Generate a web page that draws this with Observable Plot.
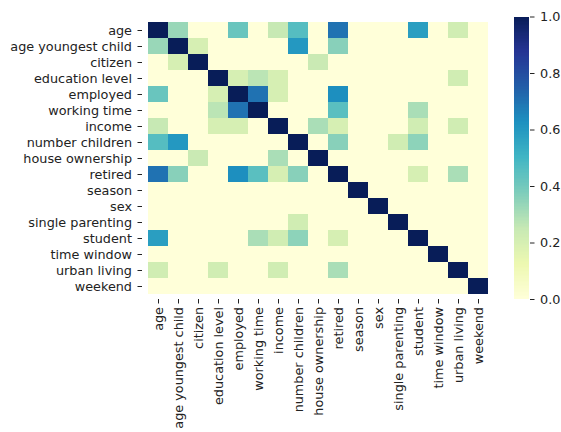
<!DOCTYPE html>
<html>
<head>
<meta charset="utf-8">
<script src="https://cdn.jsdelivr.net/npm/d3@7"></script>
<script src="https://cdn.jsdelivr.net/npm/@observablehq/plot@0.6"></script>
<style>
  html, body { margin: 0; padding: 0; background: #fff; }
  #wrap { position: relative; width: 561px; height: 432px; overflow: hidden; }
  #wrap > div { position: absolute; top: 0; }
  svg text { font-family: "DejaVu Sans", sans-serif !important; font-size: 12.8px !important; fill: #222; }
</style>
</head>
<body>
<div id="wrap"><div id="main" style="left:0"></div><div id="cbar" style="left:500px"></div></div>
<script>
const categories = ["age", "age youngest child", "citizen", "education level", "employed",
  "working time", "income", "number children", "house ownership", "retired", "season",
  "sex", "single parenting", "student", "time window", "urban living", "weekend"];

// correlation matrix, rows in the order of categories
const corr = [
  [1.00, 0.33, 0, 0, 0.42, 0, 0.25, 0.46, 0, 0.70, 0, 0, 0, 0.58, 0, 0.22, 0],
  [0.33, 1.00, 0.20, 0, 0, 0, 0, 0.60, 0, 0.36, 0, 0, 0, 0, 0, 0, 0],
  [0, 0.20, 1.00, 0, 0, 0, 0, 0, 0.24, 0, 0, 0, 0, 0, 0, 0, 0],
  [0, 0, 0, 1.00, 0.20, 0.27, 0.20, 0, 0, 0, 0, 0, 0, 0, 0, 0.22, 0],
  [0.42, 0, 0, 0.20, 1.00, 0.70, 0.20, 0, 0, 0.63, 0, 0, 0, 0, 0, 0, 0],
  [0, 0, 0, 0.27, 0.70, 1.00, 0, 0, 0, 0.45, 0, 0, 0, 0.30, 0, 0, 0],
  [0.25, 0, 0, 0.20, 0.20, 0, 1.00, 0, 0.30, 0.20, 0, 0, 0, 0.22, 0, 0.22, 0],
  [0.46, 0.60, 0, 0, 0, 0, 0, 1.00, 0, 0.36, 0, 0, 0.22, 0.35, 0, 0, 0],
  [0, 0, 0.24, 0, 0, 0, 0.30, 0, 1.00, 0, 0, 0, 0, 0, 0, 0, 0],
  [0.70, 0.36, 0, 0, 0.63, 0.45, 0.20, 0.36, 0, 1.00, 0, 0, 0, 0.20, 0, 0.30, 0],
  [0, 0, 0, 0, 0, 0, 0, 0, 0, 0, 1.00, 0, 0, 0, 0, 0, 0],
  [0, 0, 0, 0, 0, 0, 0, 0, 0, 0, 0, 1.00, 0, 0, 0, 0, 0],
  [0, 0, 0, 0, 0, 0, 0, 0.22, 0, 0, 0, 0, 1.00, 0, 0, 0, 0],
  [0.58, 0, 0, 0, 0, 0.30, 0.22, 0.35, 0, 0.20, 0, 0, 0, 1.00, 0, 0, 0],
  [0, 0, 0, 0, 0, 0, 0, 0, 0, 0, 0, 0, 0, 0, 1.00, 0, 0],
  [0.22, 0, 0, 0.22, 0, 0, 0.22, 0, 0, 0.30, 0, 0, 0, 0, 0, 1.00, 0],
  [0, 0, 0, 0, 0, 0, 0, 0, 0, 0, 0, 0, 0, 0, 0, 0, 1.00]
];

const colorbarTicks = [0, 0.2, 0.4, 0.6, 0.8, 1.0];

// matplotlib YlGnBu anchor colours
const ylgnbu = ["#ffffd9", "#edf8b1", "#c7e9b4", "#7fcdbb", "#41b6c4", "#1d91c0", "#225ea8", "#253494", "#081d58"];
const ylgnbuStops = ylgnbu.map((_, i) => i / (ylgnbu.length - 1));

const cells = [];
corr.forEach((row, i) => row.forEach((v, j) => cells.push({row: categories[i], col: categories[j], v})));

const colorScale = {type: "linear", domain: ylgnbuStops, range: ylgnbu, interpolate: "rgb"};
const FS = 12.8;

const main = Plot.plot({
  width: 500,
  height: 432,
  marginLeft: 142,
  marginRight: 7,
  marginTop: 16.5,
  marginBottom: 133,
  style: {fontFamily: "DejaVu Sans", fontSize: "12.8px", color: "#222", background: "white"},
  x: {type: "band", domain: categories, padding: 0, label: null},
  y: {type: "band", domain: categories, padding: 0, label: null},
  color: colorScale,
  marks: [
    Plot.cell(cells, {x: "col", y: "row", fill: "v", inset: 0}),
    Plot.axisX({tickRotate: -90, tickSize: 4.5, tickPadding: 3, fontSize: FS, label: null}),
    Plot.axisY({tickSize: 4.5, tickPadding: 6, fontSize: FS, label: null})
  ]
});
document.getElementById("main").appendChild(main);

// colour bar
const barSteps = d3.range(0, 200).map(k => ({y1: k / 200, y2: (k + 1) / 200}));
const cbar = Plot.plot({
  width: 61,
  height: 432,
  marginLeft: 14,
  marginRight: 32,
  marginTop: 16.5,
  marginBottom: 133,
  style: {fontFamily: "DejaVu Sans", fontSize: "12.8px", color: "#222", background: "transparent", overflow: "visible"},
  x: {domain: [0, 1], axis: null},
  y: {domain: [0, 1], label: null},
  color: colorScale,
  marks: [
    Plot.rect(barSteps, {x1: 0, x2: 1, y1: "y1", y2: "y2", fill: d => (d.y1 + d.y2) / 2, shapeRendering: "crispEdges"}),
    Plot.axisY({anchor: "right", ticks: colorbarTicks, tickFormat: d3.format(".1f"), tickSize: 4.5, tickPadding: 6, fontSize: FS, label: null})
  ]
});
document.getElementById("cbar").appendChild(cbar);
</script>
</body>
</html>
